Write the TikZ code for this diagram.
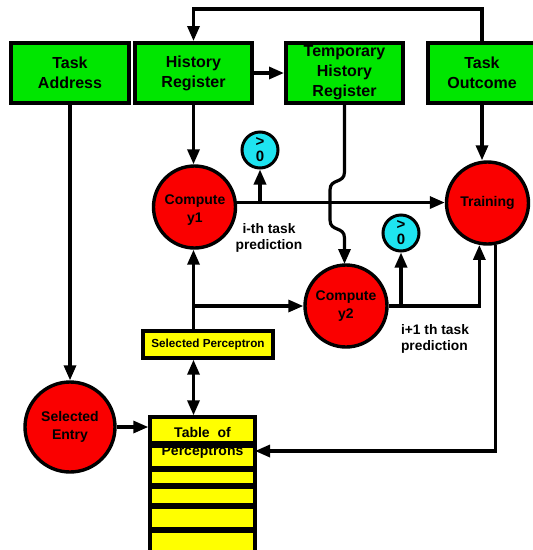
\documentclass[tikz,border=0pt]{standalone}
\usepackage{fontspec}
\setmainfont{Liberation Sans}
\usetikzlibrary{arrows.meta}
\definecolor{boxgreen}{RGB}{0,230,0}
\definecolor{circred}{RGB}{250,0,0}
\definecolor{cmpcyan}{RGB}{30,228,240}
\definecolor{tabyellow}{RGB}{255,255,0}
\tikzset{
  topbox/.style={draw=black, line width=4pt, fill=boxgreen, rectangle, inner sep=0pt,
    align=center, font=\fontsize{16}{20}\selectfont\bfseries},
  redcirc/.style={draw=black, line width=3.4pt, fill=circred, circle, inner sep=0pt,
    align=center, font=\fontsize{14}{18}\selectfont\bfseries},
  gtcirc/.style={draw=black, line width=3pt, fill=cmpcyan, circle, inner sep=0pt,
    minimum size=36pt, align=center, font=\fontsize{15}{15}\selectfont\bfseries},
  yelbox/.style={draw=black, line width=3.4pt, fill=tabyellow, rectangle, inner sep=0pt},
  conn/.style={line width=3.2pt, line join=miter},
  arr/.style={conn, -{Triangle[length=15pt,width=12pt]}},
  darr/.style={conn, {Triangle[length=15pt,width=12pt]}-{Triangle[length=15pt,width=12pt]}},
  lbl/.style={align=left, inner sep=0pt, font=\fontsize{13.8}{16.5}\selectfont\bfseries}
}
\begin{document}
\begin{tikzpicture}[x=1pt,y=-1pt]
\useasboundingbox (0,0) rectangle (533,550);
\clip (0,0) rectangle (533,550);
\fill[white] (0,0) rectangle (533,550);

% top boxes
\node[topbox, minimum width=118pt, minimum height=60pt] (TA) at (70,73) {Task\\Address};
\node[topbox, minimum width=117pt, minimum height=60pt] (HR) at (193.5,73) {History\\Register};
\node[topbox, minimum width=117pt, minimum height=60pt] (THR) at (344.5,73) {Temporary\\History\\Register};
\node[topbox, minimum width=108pt, minimum height=60pt] (TO) at (482,73) {Task\\Outcome};

% circles
\node[redcirc, minimum size=82pt] (C1) at (194.5,207) {};
\node[align=center, inner sep=0pt, font=\fontsize{14}{18}\selectfont\bfseries] (C1T) at (195,210) {Compute\\y1};
\node[redcirc, minimum size=82pt] (T) at (487.5,203) {Training};
\node[redcirc, minimum size=82pt] (C2) at (346,306) {Compute\\y2};
\node[redcirc, minimum size=90pt] (SE) at (70,427) {Selected\\Entry};
\node[gtcirc] (G1) at (260,150) {>\\0};
\node[gtcirc] (G2) at (401,233) {>\\0};

% selected perceptron
\node[yelbox, minimum width=130pt, minimum height=27pt,
  font=\fontsize{11.7}{14}\selectfont\bfseries] (SP) at (208,344.5) {Selected Perceptron};

% table of perceptrons
\node[yelbox, minimum width=105pt, minimum height=26pt] (TBL) at (202.5,430) {};
\draw[yelbox] (150,446) rectangle (255,468);
\draw[yelbox] (150,470) rectangle (255,485);
\draw[yelbox] (150,487) rectangle (255,505);
\draw[yelbox] (150,507) rectangle (255,529);
\draw[yelbox] (150,531) rectangle (255,556);
\node[align=center, inner sep=0pt, font=\fontsize{14}{18}\selectfont\bfseries] (TBLT) at (202.5,443) {Table~~of\\Perceptrons};

% labels
\node[lbl, align=center] (L1) at (269,238) {i-th task\\prediction};
\node[lbl] (L2) at (435,339) {i+1 th task\\prediction};

% connectors
\draw[arr] (TO.north) -- ++(0,-32) -| (HR.north);
\draw[arr] (HR.east) -- (THR.west);
\draw[arr] (TA.south) -- (SE.north);
\draw[arr] (HR.south) -- (HR.south |- C1.north);
\draw[arr] (TO.south) -- (TO.south |- T.north);
\draw[arr] (C1.6) -- (C1.6 -| T.west);
\draw[arr] (G1.south |- C1.6) -- (G1.south);
\draw[arr] (THR.south) -- (344.5,172) .. controls (344.5,184) and (330,178) .. (330,190)
  -- (330,220) .. controls (330,232) and (344.5,226) .. (344.5,238) -- (344.5,264);
\draw[arr] (HR.south |- SP.north) -- (HR.south |- C1.south);
\draw[arr] (HR.south |- C2.west) -- (C2.west);
\draw[arr] (C2.east) -| (T.259);
\draw[arr] (G2.south |- C2.east) -- (G2.south);
\coordinate (TIN) at (255,451);
\draw[arr] (T.281) |- (TIN);
\draw[darr] (HR.south |- SP.south) -- (HR.south |- TBL.north);
\draw[arr] (SE.east) -- (SE.east -| TBL.west);
\end{tikzpicture}
\end{document}
